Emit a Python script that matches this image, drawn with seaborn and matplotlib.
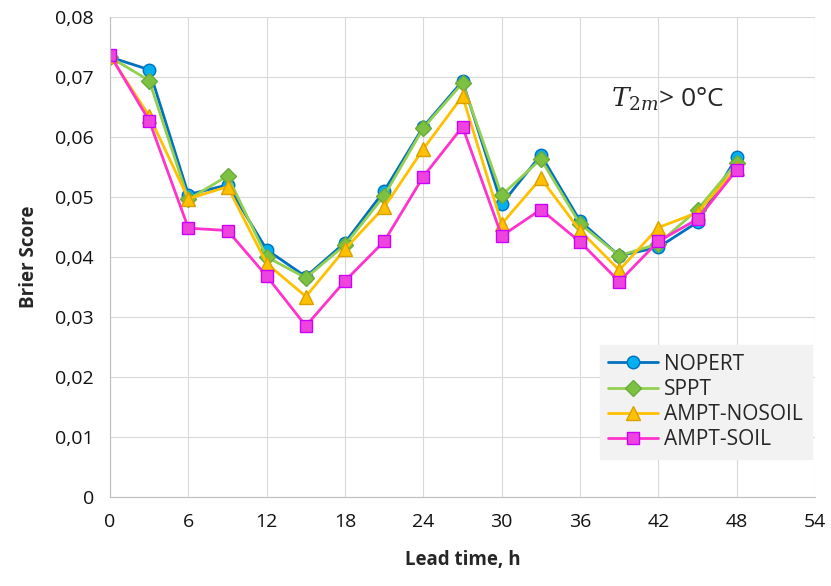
import matplotlib
matplotlib.use("Agg")
import matplotlib.pyplot as plt
import matplotlib.ticker as mticker
import seaborn as sns

lead = [0, 3, 6, 9, 12, 15, 18, 21, 24, 27, 30, 33, 36, 39, 42, 45, 48]
nopert = [0.0733, 0.0712, 0.0504, 0.0520, 0.0412, 0.0367, 0.0424, 0.0510, 0.0617, 0.0693,
          0.0488, 0.0570, 0.0460, 0.0402, 0.0416, 0.0458, 0.0566]
sppt = [0.0733, 0.0694, 0.0496, 0.0535, 0.0400, 0.0365, 0.0420, 0.0502, 0.0615, 0.0690,
        0.0503, 0.0563, 0.0455, 0.0402, 0.0422, 0.0479, 0.0557]
nosoil = [0.0735, 0.0635, 0.0497, 0.0517, 0.0389, 0.0334, 0.0413, 0.0483, 0.0580, 0.0668,
          0.0455, 0.0531, 0.0444, 0.0378, 0.0449, 0.0474, 0.0549]
soil = [0.0737, 0.0627, 0.0448, 0.0444, 0.0368, 0.0285, 0.0360, 0.0426, 0.0534, 0.0617,
        0.0435, 0.0479, 0.0425, 0.0359, 0.0426, 0.0463, 0.0545]
names = ["NOPERT", "SPPT", "AMPT-NOSOIL", "AMPT-SOIL"]

sns.set_style("whitegrid", {"grid.color": "#D9D9D9", "axes.edgecolor": "#BFBFBF"})
plt.rcParams["font.family"] = ["Open Sans", "DejaVu Sans"]
plt.rcParams["mathtext.fontset"] = "dejavuserif"

fig = plt.figure(figsize=(8.31, 5.86), dpi=100)
ax = fig.add_axes([0.1324, 0.152, 0.8484, 0.8191])

styles = [
    ("#0070C0", "o", "#00B0F0", "#0070C0", 9),
    ("#92D050", "D", "#7DC142", "#6AAB3A", 8),
    ("#FFC000", "^", "#FFC000", "#D9A000", 10),
    ("#FF33CC", "s", "#EE44DD", "#CC00FF", 9),
]
for vals, name, (lc, mk, mf, me, ms) in zip([nopert, sppt, nosoil, soil], names, styles):
    sns.lineplot(x=lead, y=vals, ax=ax, color=lc, linewidth=2, marker=mk,
                 markersize=ms, markerfacecolor=mf, markeredgecolor=me,
                 markeredgewidth=1, label=name)

ax.set_xlim(0, 54)
ax.set_ylim(0, 0.08)
ax.set_xticks(range(0, 55, 6))
ax.set_yticks([i / 100 for i in range(9)])
ax.yaxis.set_major_formatter(mticker.FuncFormatter(
    lambda v, p: "0" if v == 0 else f"{v:.2f}".replace(".", ",")))
ax.tick_params(labelsize=14, pad=8, labelcolor="#111111")
ax.set_xlabel("Lead time, h", fontsize=13.5, fontweight="bold", labelpad=14)
ax.set_ylabel("Brier Score", fontsize=13.5, fontweight="bold", labelpad=12)
for s in ["top", "right"]:
    ax.spines[s].set_visible(False)

ax.text(38.4, 0.0663, r"$T_{2m}$> 0°C", fontsize=19, va="center")

leg = ax.legend(loc="lower right", bbox_to_anchor=(0.995, 0.08), fontsize=15,
                frameon=True, fancybox=False, handlelength=2.4, handletextpad=0.3,
                labelspacing=0.2, borderpad=0.4, borderaxespad=0)
leg.get_frame().set_facecolor("#F2F2F2")
leg.get_frame().set_edgecolor("#F2F2F2")
leg.get_frame().set_alpha(1)

fig.savefig("out.png", dpi=100)
